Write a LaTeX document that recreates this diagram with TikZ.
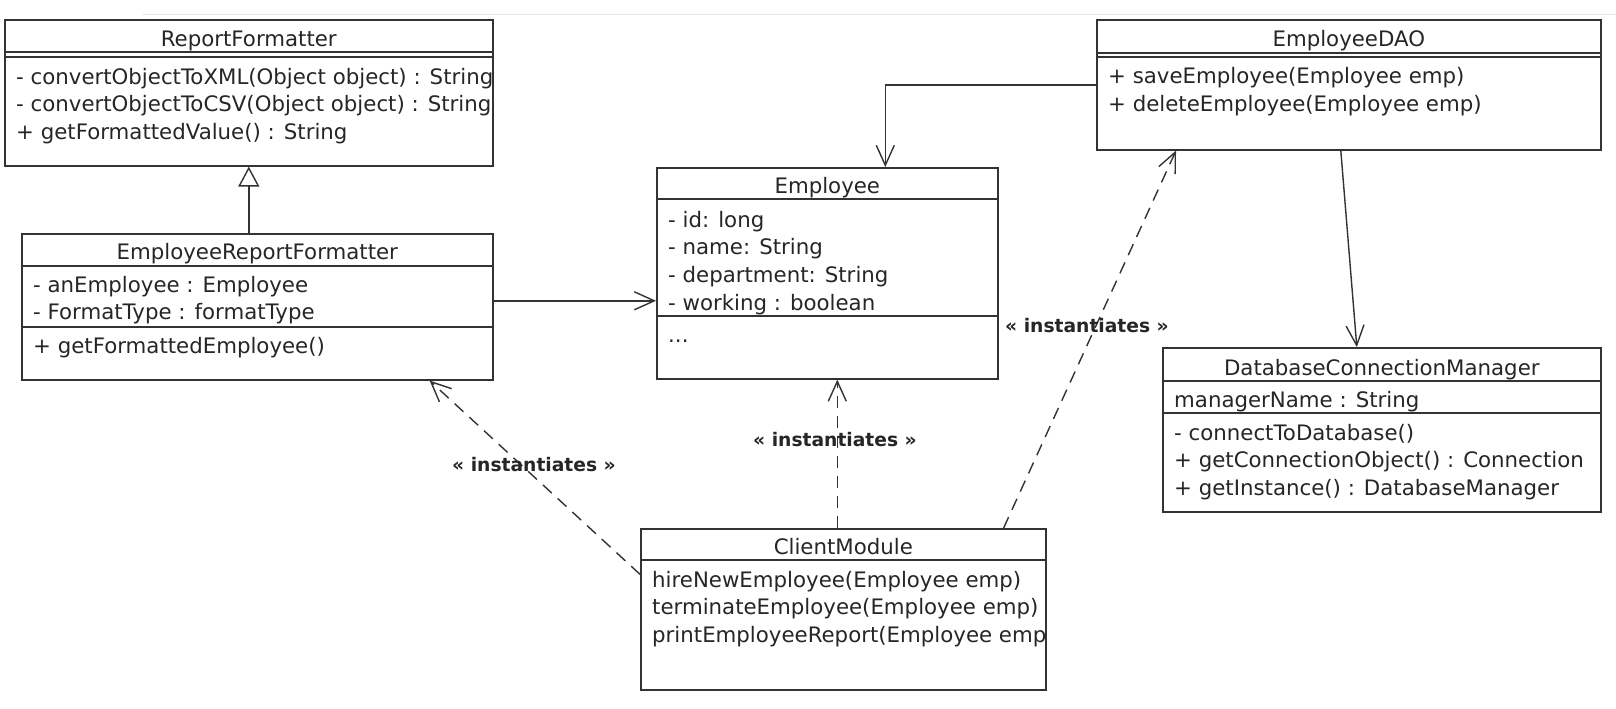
\documentclass[tikz,border=0pt]{standalone}
\usepackage{fontspec}
\setmainfont{DejaVu Sans}
\usetikzlibrary{arrows.meta,positioning}

\begin{document}
\begin{tikzpicture}[x=1pt,y=-1pt,
 font=\fontsize{21.3}{27.7}\selectfont,
 every node/.style={text=black!85},
 box/.style={draw=black!80,line width=1.6pt,anchor=north west,inner sep=0pt},
 sep/.style={draw=black!80,line width=1.6pt},
 ttl/.style={anchor=base,inner sep=0pt},
 mbr/.style={anchor=base west,align=left,inner xsep=12pt,inner ysep=0pt},
 lbl/.style={font=\fontsize{18.7}{22}\selectfont\bfseries,inner sep=0pt},
 assoc/.style={line width=1.4pt,draw=black!80,-{Straight Barb[length=20pt,width=18pt]}},
 dep/.style={assoc,dash pattern=on 12pt off 8pt},
 inh/.style={line width=1.4pt,draw=black!80,-{Triangle[open,length=20pt,width=21pt,fill=white]}}]
\useasboundingbox[fill=white] (0,0) rectangle (1616,709);
\draw[black!10,line width=1pt] (143,15) -- (1616,15);

% class boxes
\node[box,minimum width=488pt,minimum height=146pt] (rf) at (4,19) {};
\node[box,minimum width=471pt,minimum height=146pt] (erf) at (21,233) {};
\node[box,minimum width=341pt,minimum height=211pt] (emp) at (656,167) {};
\node[box,minimum width=504pt,minimum height=130pt] (dao) at (1096,19) {};
\node[box,minimum width=438pt,minimum height=164pt] (dcm) at (1162,347) {};
\node[box,minimum width=405pt,minimum height=161pt] (cm) at (640,528) {};

% compartments
\draw[sep] (rf.west |- 0,52) -- (rf.east |- 0,52) (rf.west |- 0,57) -- (rf.east |- 0,57);
\draw[sep] (erf.west |- 0,266) -- (erf.east |- 0,266) (erf.west |- 0,327) -- (erf.east |- 0,327);
\draw[sep] (emp.west |- 0,199) -- (emp.east |- 0,199) (emp.west |- 0,316) -- (emp.east |- 0,316);
\draw[sep] (dao.west |- 0,53) -- (dao.east |- 0,53) (dao.west |- 0,57) -- (dao.east |- 0,57);
\draw[sep] (dcm.west |- 0,381) -- (dcm.east |- 0,381) (dcm.west |- 0,413) -- (dcm.east |- 0,413);
\draw[sep] (cm.west |- 0,560) -- (cm.east |- 0,560);

% titles
\node[ttl] (rf-t) at (rf.north |- 0,47) {ReportFormatter};
\node[ttl] (erf-t) at (erf.north |- 0,259) {EmployeeReportFormatter};
\node[ttl] (emp-t) at (emp.north |- 0,193) {Employee};
\node[ttl] (dao-t) at (dao.north |- 0,47) {EmployeeDAO};
\node[ttl] (dcm-t) at (dcm.north |- 0,375) {DatabaseConnectionManager};
\node[ttl] (cm-t) at (cm.north |- 0,554) {ClientModule};

% members (anchored on the last line)
\begin{scope}
\clip (rf.north west) rectangle (rf.south east);
\node[mbr] (rf-m) at (rf.west |- 0,139.4) {- convertObjectToXML(Object object) : String\\- convertObjectToCSV(Object object) : String\\+ getFormattedValue() : String};
\end{scope}
\node[mbr] (erf-a) at (erf.west |- 0,319.7) {- anEmployee : Employee\\- FormatType : formatType};
\node[mbr] (erf-m) at (erf.west |- 0,353) {+ getFormattedEmployee()};
\node[mbr] (emp-a) at (emp.west |- 0,310.1) {- id: long\\- name: String\\- department: String\\- working : boolean};
\node[mbr] (emp-m) at (emp.west |- 0,342) {...};
\node[mbr] (dao-m) at (dao.west |- 0,111.7) {+ saveEmployee(Employee emp)\\+ deleteEmployee(Employee emp)};
\node[mbr] (dcm-a) at (dcm.west |- 0,407) {managerName : String};
\node[mbr] (dcm-m) at (dcm.west |- 0,495.4) {- connectToDatabase()\\+ getConnectionObject() : Connection\\+ getInstance() : DatabaseManager};
\begin{scope}
\clip (cm.north west) rectangle (cm.south east);
\node[mbr] (cm-m) at (cm.west |- 0,642.4) {hireNewEmployee(Employee emp)\\terminateEmployee(Employee emp)\\printEmployeeReport(Employee emp)};
\end{scope}

% relations
\draw[inh] (rf.south |- erf.north) -- (rf.south);
\draw[assoc] ([yshift=6pt]erf.east) -- ([yshift=6pt]erf.east -| emp.west);
\draw[assoc] (dao.west) -| ([xshift=58pt]emp.north);
\draw[assoc] ([xshift=-8pt]dao.south) -- ([xshift=-25pt]dcm.north);
\draw[dep] ([yshift=35pt]cm.west) -- ([xshift=-64pt]erf.south east);
\draw[dep] ([xshift=-6pt]cm.north) -- ([xshift=-6pt]cm.north |- emp.south);
\draw[dep] ([xshift=-43pt]cm.north east) -- ([xshift=80pt]dao.south west);

\node[lbl] (inst-erf) at (534,465) {« instantiates »};
\node[lbl] (inst-emp) at (835,440) {« instantiates »};
\node[lbl] (inst-dao) at (1087,326) {« instantiates »};
\end{tikzpicture}
\end{document}
